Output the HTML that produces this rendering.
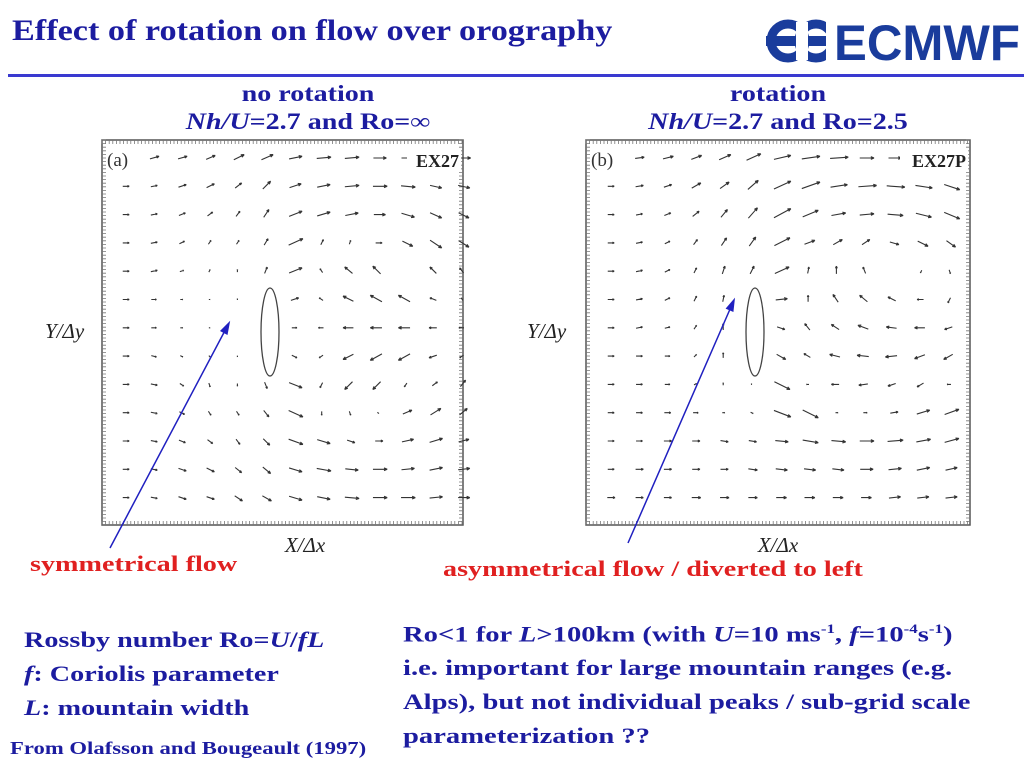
<!DOCTYPE html>
<html><head><meta charset="utf-8"><style>
html,body{margin:0;padding:0;background:#fff;}
body{width:1024px;height:768px;position:relative;overflow:hidden;font-family:"Liberation Serif",serif;}
.t{position:absolute;white-space:nowrap;font-weight:bold;color:#1c1ca0;transform-origin:0 0;}
</style></head><body>
<div class="t" style="left:12px;top:14px;font-size:30px;transform:scaleX(1.14);">Effect of rotation on flow over orography</div>
<svg style="position:absolute;left:766px;top:18px" width="256" height="46">
<circle cx="22" cy="23" r="17" fill="none" stroke="#1a3c9c" stroke-width="9"/>
<circle cx="50" cy="23" r="17" fill="none" stroke="#1a3c9c" stroke-width="9"/>
<rect x="0" y="18" width="70" height="10" fill="#1a3c9c"/>
<rect x="30" y="4" width="12" height="38" fill="#fff"/>
<rect x="60" y="4" width="14" height="38" fill="#fff"/>
<text x="68" y="42" font-family="Liberation Sans,sans-serif" font-weight="bold" font-size="50" fill="#1a3c9c" textLength="186" lengthAdjust="spacingAndGlyphs">ECMWF</text>
</svg>
<div style="position:absolute;left:8px;top:74px;width:1016px;height:3px;background:#3a3ad0"></div>

<div class="t" style="left:158px;width:300px;text-align:center;top:80px;font-size:23px;line-height:28px;transform:scaleX(1.22);transform-origin:150px 0;">no rotation<br><i>Nh/U</i>=2.7 and Ro=∞</div>
<div class="t" style="left:628px;width:300px;text-align:center;top:80px;font-size:23px;line-height:28px;transform:scaleX(1.22);transform-origin:150px 0;">rotation<br><i>Nh/U</i>=2.7 and Ro=2.5</div>

<svg id="plots" style="position:absolute;left:0;top:0" width="1024" height="768"></svg>

<div class="t" style="left:30px;top:551px;font-size:22px;color:#e02020;transform:scaleX(1.28);">symmetrical flow</div>
<div class="t" style="left:443px;top:556px;font-size:22px;color:#e02020;transform:scaleX(1.28);">asymmetrical flow / diverted to left</div>

<div class="t" style="left:24px;top:623px;font-size:22px;line-height:34px;transform:scaleX(1.28);">Rossby number Ro=<i>U</i>/<i>fL</i><br><i>f</i>: Coriolis parameter<br><i>L</i>: mountain width</div>
<div class="t" style="left:10px;top:738px;font-size:18px;transform:scaleX(1.26);">From Olafsson and Bougeault (1997)</div>
<div class="t" style="left:403px;top:612px;font-size:22px;line-height:34px;transform:scaleX(1.3);">Ro&lt;1 for <i>L</i>&gt;100km (with <i>U</i>=10 ms<sup style="font-size:13px">-1</sup>, <i>f</i>=10<sup style="font-size:13px">-4</sup>s<sup style="font-size:13px">-1</sup>)<br>i.e. important for large mountain ranges (e.g.<br>Alps), but not individual peaks / sub-grid scale<br>parameterization ??</div>

<script>
// vector field data: each row of 13 [u,v] pairs (v positive = up), top row first
const fieldA = [
"0,0 7,2 7,2 7,3 8,4 9,4 10,2 11,1 11,1 10,0 10,0 10,0 10,0",
"5,0 5,1 6,2 6,3 5,4 6,6 9,3 10,2 11,1 11,0 11,-1 9,-2 9,-2",
"5,0 5,1 5,2 4,3 3,4 4,6 10,4 10,3 10,2 9,0 10,-3 9,-4 8,-4",
"5,0 5,1 4,2 2,3 2,3 3,5 11,5 2,4 1,3 5,0 8,-4 9,-6 8,-5",
"5,0 5,1 3,1 1,2 0,2 2,5 10,4 -2,3 -6,5 -6,6 0,0 -5,5 -3,4",
"5,0 4,0 2,0 1,0 0,1 0,0 6,2 -3,2 -8,4 -9,5 -9,5 -5,2 -1,2",
"5,0 4,0 2,0 1,0 0,0 0,0 4,0 -4,0 -8,0 -9,0 -9,0 -6,0 -4,0",
"5,0 4,-1 2,-1 1,-1 0,-1 0,0 4,-2 -3,-2 -8,-4 -9,-5 -9,-5 -6,-2 -3,-2",
"5,0 5,-1 3,-2 1,-3 0,-2 2,-5 10,-4 -2,-4 -6,-6 -6,-6 -2,-3 4,3 4,5",
"5,0 5,-1 4,-2 2,-3 2,-3 4,-5 11,-5 0,-3 1,-3 1,-1 7,3 8,5 6,5",
"5,0 5,-1 5,-2 4,-3 3,-4 5,-5 11,-4 10,-3 6,-2 6,0 9,2 10,3 8,2",
"5,0 5,-1 6,-2 6,-3 5,-4 6,-5 10,-3 11,-2 10,-1 11,0 10,1 10,2 9,1",
"5,0 5,-1 6,-2 6,-2 6,-4 7,-4 10,-3 10,-2 11,-1 11,0 11,0 10,1 9,0"];
const fieldB = [
"0,0 7,1 8,2 8,3 9,4 11,5 13,3 14,2 14,1 11,0 10,0 10,0 10,0",
"5,0 6,1 6,2 7,4 7,5 8,7 13,6 14,5 13,2 14,1 14,-1 13,-2 12,-4",
"5,0 5,1 5,2 5,4 5,6 7,8 13,7 12,5 11,2 11,1 12,-1 12,-3 12,-5",
"5,0 5,1 4,2 3,4 4,6 5,7 12,6 8,3 7,4 6,4 7,-2 8,-4 7,-5",
"5,0 5,1 4,2 2,4 2,6 3,6 11,5 1,5 0,6 -2,5 0,0 -1,-2 1,-3",
"5,0 5,1 4,2 2,4 1,5 0,0 9,1 0,5 -4,6 -6,5 -6,3 -5,0 -2,-4",
"5,0 5,1 4,1 2,3 0,5 0,0 6,-2 -4,5 -6,4 -8,3 -8,1 -8,0 -6,-2",
"5,0 5,0 4,0 2,2 0,4 0,0 7,-4 -5,3 -8,2 -9,1 -9,-1 -8,-3 -7,-4",
"5,0 5,0 4,0 2,1 0,2 0,1 12,-6 -2,0 -6,0 -7,-1 -6,-2 -5,-3 -3,0",
"5,0 5,0 5,0 4,0 2,0 2,-1 13,-5 12,-6 2,0 3,0 6,1 10,3 11,4",
"5,0 5,0 6,0 6,0 6,-1 6,-1 10,-1 12,-2 11,-1 11,0 12,1 11,2 11,3",
"5,0 6,0 6,0 6,0 6,0 7,-1 9,-1 9,-1 9,-1 10,0 10,1 10,2 9,2",
"6,0 6,0 6,0 7,0 7,0 7,0 8,0 8,0 8,0 8,0 9,1 9,1 9,1"];
const NS="http://www.w3.org/2000/svg";
const svg=document.getElementById('plots');
function mk(t,a){const e=document.createElementNS(NS,t);for(const k in a)e.setAttribute(k,a[k]);svg.appendChild(e);return e;}
function panel(cfg,field,id){
  const fr=mk('rect',{x:cfg.x0,y:cfg.y0,width:cfg.x1-cfg.x0,height:cfg.y1-cfg.y0,fill:'#fff',stroke:'#555','stroke-width':1.5});
  
  
  let d='';
  for(let x=cfg.x0;x<=cfg.x1;x+=3.6){d+=`M${x} ${cfg.y0}v4M${x} ${cfg.y1}v-4`;}
  for(let y=cfg.y0;y<=cfg.y1;y+=3.6){d+=`M${cfg.x0} ${y}h4M${cfg.x1} ${y}h-4`;}
  const tk=mk('path',{d:d,stroke:'#777','stroke-width':0.8,fill:'none'});
  
  
  const xs=i=>cfg.cx0+i*cfg.dx, ys=j=>cfg.cy0+j*cfg.dy;
  field.forEach((row,j)=>{row.split(' ').forEach((p,i)=>{
    const [u,v]=p.split(',').map(Number);
    const L=Math.hypot(u,v); if(L<0.5)return;
    const x=xs(i),y=ys(j), ex=x+u*0.85, ey=y-v*0.85;
    const a=Math.atan2(ey-y,ex-x), h=Math.min(3.5,L*0.4);
    const g=mk('path',{d:`M${x-u*0.45} ${y+v*0.45}L${ex} ${ey}M${ex} ${ey}L${ex-h*Math.cos(a-0.4)} ${ey-h*Math.sin(a-0.4)}M${ex} ${ey}L${ex-h*Math.cos(a+0.4)} ${ey-h*Math.sin(a+0.4)}`,stroke:'#333','stroke-width':1.1,fill:'none'});
    
    
  });});
  const el=mk('ellipse',{cx:cfg.ex,cy:332,rx:9,ry:44,fill:'none',stroke:'#444','stroke-width':1.3});
  
  
  const pl=mk('text',{x:cfg.x0+5,y:166,'font-size':19,'font-family':'Liberation Serif,serif',fill:'#333'});
  pl.textContent=cfg.lab;
  
  
  const bg=mk('rect',{x:cfg.x1-cfg.tw-8,y:148,width:cfg.tw+6,height:22,fill:'#fff'});
  
  
  const tg=mk('text',{x:cfg.x1-4,y:167,'text-anchor':'end','font-size':18,'font-weight':'bold','font-family':'Liberation Serif,serif',fill:'#222'});
  tg.textContent=cfg.tag;
  
  
  const yl=mk('text',{x:cfg.yl,y:338,'font-size':21,'font-style':'italic','font-family':'Liberation Serif,serif',fill:'#222'});
  yl.textContent='Y/Δy';
  
  
  const xl=mk('text',{x:cfg.xl,y:552,'text-anchor':'middle','font-size':21,'font-style':'italic','font-family':'Liberation Serif,serif',fill:'#222'});
  xl.textContent='X/Δx';
  
  
}
panel({x0:102,x1:463,y0:140,y1:525,cx0:125,dx:28.1,cy0:158,dy:28.3,ex:270,lab:'(a)',tag:'EX27',tw:48,yl:45,xl:305},fieldA,'panel-a');
panel({x0:586,x1:970,y0:140,y1:525,cx0:610,dx:28.3,cy0:158,dy:28.3,ex:755,lab:'(b)',tag:'EX27P',tw:62,yl:527,xl:778},fieldB,'panel-b');
function ptr(x1,y1,x2,y2,n){
  const a=Math.atan2(y2-y1,x2-x1);
  const p=mk('path',{d:`M${x1} ${y1}L${x2} ${y2}M${x2} ${y2}L${x2-11*Math.cos(a-0.3)} ${y2-11*Math.sin(a-0.3)}L${x2-11*Math.cos(a+0.3)} ${y2-11*Math.sin(a+0.3)}Z`,stroke:'#2020c0','stroke-width':1.5,fill:'#2020c0'});
  
  
}
ptr(110,548,229,323,'pointer-arrow-left');
ptr(628,543,734,300,'pointer-arrow-right');
</script>
</body></html>
